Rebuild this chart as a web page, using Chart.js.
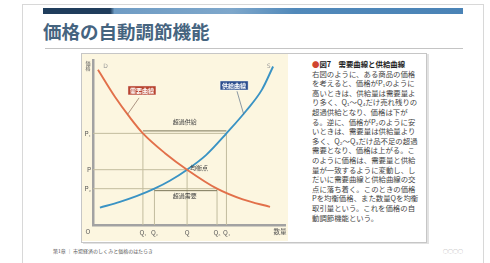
<!DOCTYPE html>
<html lang="ja">
<head>
<meta charset="utf-8">
<script src="https://cdn.jsdelivr.net/npm/chart.js@4.4.1/dist/chart.umd.min.js"></script>
<style>
body{margin:0;width:490px;height:263px;background:#fff;font-family:"Noto Sans CJK JP",sans-serif;position:relative;overflow:hidden}
#slide{position:absolute;left:22px;top:4px;width:460px;height:262px;border:1px solid #d8d8d8}
#bar{position:absolute;left:43px;top:8px;width:420px;height:6px;background:linear-gradient(to right,#1f3d5c 0,#1f3d5c 16%,#6f9cc4 17%,#7ea7cb 45%,#5189ba 60%,#4a83b6 100%)}
#title{position:absolute;left:43px;top:18px;font-size:18.5px;font-weight:bold;color:#45647f;line-height:26px;white-space:nowrap}
#rule{position:absolute;left:45px;top:48px;width:418px;height:1px;background:#c4c4c4}
#box{position:absolute;left:81px;top:53px;width:344px;height:188px;border:1px solid #c6c6c6;box-shadow:2px 1px 0 #e2e2e2;background:#fff}
#plot{position:absolute;left:82px;top:54px;width:206px;height:187px;background:#fcf6e0}
#note{position:absolute;left:312px;top:59px;width:107px;font-size:7.4px;line-height:9.6px;color:#444}
#note b{color:#222}
#note .dot{color:#d0452f}
#foot{position:absolute;left:53px;top:247px;font-size:5px;color:#555;white-space:nowrap}
#page{position:absolute;left:443px;top:247px;font-size:5px;color:#999}
</style>
</head>
<body>
<div id="slide"></div>
<div id="bar"></div>
<div id="title">価格の自動調節機能</div>
<div id="rule"></div>
<div id="box"></div>
<div id="plot"><canvas id="chart" width="206" height="187"></canvas></div>
<div id="note"><b><span class="dot">●</span>図7　需要曲線と供給曲線</b><br>右図のように、ある商品の価格を考えると、価格がP₁のように高いときは、供給量は需要量より多く、Q₁〜Q₄だけ売れ残りの超過供給となり、価格は下がる。逆に、価格がP₂のように安いときは、需要量は供給量より多く、Q₂〜Q₃だけ品不足の超過需要となり、価格は上がる。このように価格は、需要量と供給量が一致するように変動し、しだいに需要曲線と供給曲線の交点に落ち着く。このときの価格Pを均衡価格、また数量Qを均衡取引量という。これを価格の自動調節機能という。</div>
<div id="foot">第1章 ｜ 市場経済のしくみと価格のはたらき</div>
<div id="page">○○○○</div>
<script>
// 需要・供給曲線 (数量, 価格)
const demandQty = [2.6, 11.5, 19.3, 26, 37.5, 49, 64.6, 78, 92.2];
const demandPrice = [94, 77.5, 65, 55.5, 43.5, 33.5, 22, 15.5, 11];
const supplyQty = [3.6, 14, 23, 32, 40, 49, 59, 69.5, 80, 88, 93.8];
const supplyPrice = [10.5, 14, 17.6, 22, 26.8, 33.5, 42.5, 55.5, 69.5, 82, 96];

// 目盛り
const priceTicks = [22, 33.5, 55.5];
const priceLabels = ['P₂', 'P', 'P₁'];
const qtyTicks = [26, 32, 49, 64.6, 69.5];
const qtyLabels = ['Q₁', 'Q₂', 'Q', 'Q₃', 'Q₄'];
// 各数量目盛りに対応する価格
const guidePrice = [55.5, 22, 33.5, 22, 55.5];

function toPoints(xs, ys) {
    return xs.map((v, i) => ({x: v, y: ys[i]}));
}

const datasets = [
    {data: toPoints(demandQty, demandPrice), borderColor: '#e2704a', borderWidth: 1.9, cubicInterpolationMode: 'monotone'},
    {data: toPoints(supplyQty, supplyPrice), borderColor: '#3a93c4', borderWidth: 1.9, cubicInterpolationMode: 'monotone'},
];

// 超過供給・超過需要の線
datasets.push({data: [{x: qtyTicks[0], y: priceTicks[2] + 1.5}, {x: qtyTicks[4], y: priceTicks[2] + 1.5}], borderColor: '#7a7558', borderWidth: 1});
datasets.push({data: [{x: qtyTicks[1], y: priceTicks[0] - 1.2}, {x: qtyTicks[3], y: priceTicks[0] - 1.2}], borderColor: '#7a7558', borderWidth: 1});

// 補助線
priceTicks.forEach(p => {
    let maxQ = 0;
    qtyTicks.forEach((q, i) => { if (guidePrice[i] === p && q > maxQ) maxQ = q; });
    datasets.push({data: [{x: 0, y: p}, {x: maxQ, y: p}], borderColor: '#c2bc9e', borderWidth: 1});
});
qtyTicks.forEach((q, i) => {
    datasets.push({data: [{x: q, y: 0}, {x: q, y: guidePrice[i]}], borderColor: '#c2bc9e', borderWidth: 1});
});
datasets.forEach(d => { d.showLine = true; d.pointRadius = 0; d.fill = false; });

function box(ctx, text, cx, cy, fill) {
    ctx.font = 'bold 6px "Noto Sans CJK JP"';
    const w = ctx.measureText(text).width + 4;
    ctx.fillStyle = fill;
    ctx.fillRect(cx - w / 2, cy - 4.5, w, 9);
    ctx.strokeStyle = 'rgba(255,255,255,0.7)';
    ctx.lineWidth = 0.6;
    ctx.strokeRect(cx - w / 2, cy - 4.5, w, 9);
    ctx.fillStyle = '#fff';
    ctx.fillText(text, cx, cy + 0.5);
}

const labelPlugin = {
    id: 'labels',
    afterDraw(chart) {
        const {ctx, scales: {x, y}, chartArea} = chart;
        ctx.save();
        ctx.textAlign = 'center';
        ctx.textBaseline = 'middle';

        // 引き出し線
        ctx.strokeStyle = '#8a6a5a';
        ctx.lineWidth = 0.7;
        ctx.beginPath();
        ctx.moveTo(x.getPixelForValue(24), y.getPixelForValue(77));
        ctx.lineTo(x.getPixelForValue(18), y.getPixelForValue(67));
        ctx.stroke();
        ctx.strokeStyle = '#5a7088';
        ctx.beginPath();
        ctx.moveTo(x.getPixelForValue(75), y.getPixelForValue(81));
        ctx.lineTo(x.getPixelForValue(78.5), y.getPixelForValue(67));
        ctx.stroke();

        box(ctx, '需要曲線', x.getPixelForValue(25.5), y.getPixelForValue(81.5), '#b8442f');
        box(ctx, '供給曲線', x.getPixelForValue(73.5), y.getPixelForValue(84.5), '#2d4e8e');

        ctx.fillStyle = '#444';
        ctx.font = '6px "Noto Sans CJK JP"';
        const qMid = (qtyTicks[0] + qtyTicks[4]) / 2;
        ctx.fillText('超過供給', x.getPixelForValue(qMid), y.getPixelForValue(priceTicks[2]) - 12);
        ctx.fillText('超過需要', x.getPixelForValue(qMid), y.getPixelForValue(priceTicks[0]) + 7);
        ctx.fillText('均衡点', x.getPixelForValue(qtyTicks[2]) + 12, y.getPixelForValue(priceTicks[1]) - 2);

        ctx.fillStyle = '#999';
        ctx.font = '6px "DejaVu Sans"';
        ctx.fillText('D', x.getPixelForValue(6.5), y.getPixelForValue(96));
        ctx.fillText('S', x.getPixelForValue(91.5), y.getPixelForValue(96));

        ctx.fillStyle = '#555';
        ctx.font = '6.5px "Noto Sans CJK JP"';
        ctx.fillText('O', chartArea.left - 5, chartArea.bottom + 7);
        ctx.fillText('数量', chartArea.right - 5, chartArea.bottom + 7);
        ctx.font = '5px "Noto Sans CJK JP"';
        ctx.fillText('価', chartArea.left - 5, chartArea.top + 3);
        ctx.fillText('格', chartArea.left - 5, chartArea.top + 8);
        ctx.restore();
    }
};

const chart = new Chart(document.getElementById('chart').getContext('2d'), {
    type: 'scatter',
    data: {datasets: datasets},
    options: {
        responsive: false,
        animation: false,
        layout: {padding: {top: 4, right: 3, left: 0, bottom: 0}},
        plugins: {legend: {display: false}, tooltip: {enabled: false}},
        scales: {
            x: {
                type: 'linear', min: 0, max: 100,
                afterFit: s => { s.height = 16; },
                afterBuildTicks: s => { s.ticks = qtyTicks.map(v => ({value: v})); },
                grid: {display: false, drawTicks: false},
                border: {display: true, color: '#a2a2a2', width: 2.5},
                ticks: {
                    autoSkip: false, maxRotation: 0, padding: 4,
                    color: '#555', font: {size: 6.5, family: '"Noto Sans CJK JP"'},
                    callback: (v, i) => qtyLabels[i]
                }
            },
            y: {
                type: 'linear', min: 0, max: 100,
                afterFit: s => { s.width = 11; },
                afterBuildTicks: s => { s.ticks = priceTicks.map(v => ({value: v})); },
                grid: {display: false, drawTicks: false},
                border: {display: true, color: '#a2a2a2', width: 2.5},
                ticks: {
                    autoSkip: false, padding: 2,
                    color: '#555', font: {size: 6.5, family: '"Noto Sans CJK JP"'},
                    callback: (v, i) => priceLabels[i]
                }
            }
        }
    },
    plugins: [labelPlugin]
});
</script>
</body>
</html>
